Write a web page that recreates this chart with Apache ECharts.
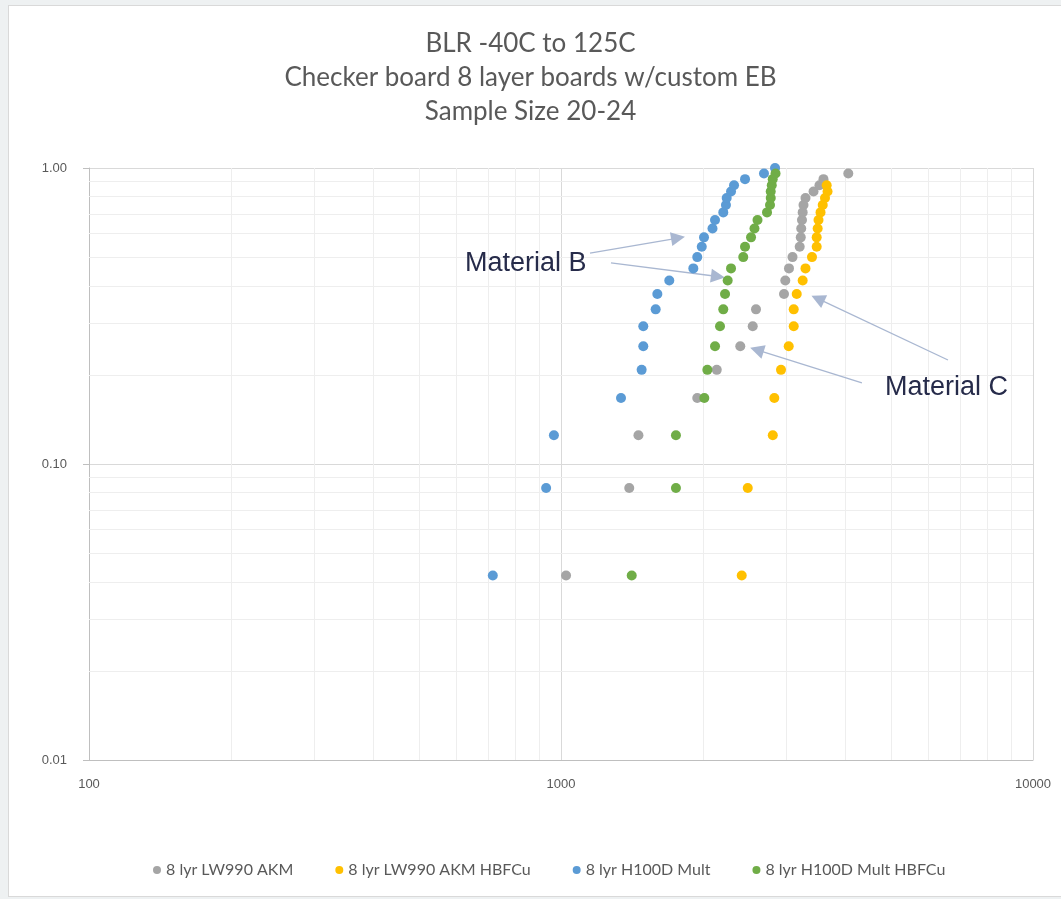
<!DOCTYPE html>
<html>
<head>
<meta charset="utf-8">
<script src="https://cdn.jsdelivr.net/npm/echarts@6/dist/echarts.min.js"></script>
<style>
  html, body { margin: 0; padding: 0; background: #eef1f2; }
  #frame { position: absolute; left: 8px; top: 5px; width: 1053px; height: 890px; background: #ffffff; border-left: 1px solid #d9d9d9; border-top: 1px solid #d9d9d9; border-bottom: 1px solid #d9d9d9; }
  #chart { position: absolute; left: 0; top: 0; width: 1061px; height: 899px; }
</style>
</head>
<body>
<div id="frame"></div>
<div id="chart"></div>
<script>
// Board level reliability: cycles to failure vs. cumulative failure fraction
const titleLines = ['BLR -40C to 125C', 'Checker board 8 layer boards w/custom EB', 'Sample Size 20-24'];
const seriesNames = ['8 lyr LW990 AKM', '8 lyr LW990 AKM HBFCu', '8 lyr H100D Mult', '8 lyr H100D Mult HBFCu'];
const seriesColors = ['#a5a5a5', '#ffc000', '#5b9bd5', '#70ad47'];

// Cumulative failure fraction for the n-th failure
const failFraction = [0.042, 0.083, 0.125, 0.167, 0.208, 0.250, 0.292, 0.333, 0.375, 0.417, 0.458, 0.500,
                      0.542, 0.583, 0.625, 0.667, 0.708, 0.750, 0.792, 0.833, 0.875, 0.917, 0.958, 1.000];

// Cycles to failure, sorted ascending
const cyclesLW990 = [1025, 1395, 1459, 1944, 2138, 2398, 2548, 2589, 2968, 2987, 3041, 3094,
                     3204, 3221, 3228, 3240, 3251, 3264, 3296, 3428, 3529, 3598, 4061];
const cyclesLW990HBFCu = [2415, 2487, 2810, 2831, 2925, 3037, 3112, 3112, 3158, 3251, 3296, 3402,
                          3481, 3481, 3498, 3512, 3547, 3585, 3625, 3670, 3655];
const cyclesH100D = [717, 930, 966, 1340, 1482, 1494, 1494, 1587, 1600, 1696, 1907, 1944,
                     1987, 2009, 2094, 2120, 2207, 2236, 2244, 2292, 2326, 2454, 2692, 2841];
const cyclesH100DHBFCu = [1412, 1752, 1752, 2012, 2042, 2120, 2172, 2207, 2226, 2255, 2292, 2433,
                          2454, 2527, 2570, 2608, 2732, 2772, 2782, 2782, 2796, 2809, 2848];

const xMajorTicks = [100, 1000, 10000];
const yMajorTicks = [0.01, 0.10, 1.00];
const xMinorGrid = [200, 300, 400, 500, 600, 700, 800, 900, 2000, 3000, 4000, 5000, 6000, 7000, 8000, 9000];
const yMinorGrid = [0.02, 0.03, 0.04, 0.05, 0.06, 0.07, 0.08, 0.09, 0.2, 0.3, 0.4, 0.5, 0.6, 0.7, 0.8, 0.9];

// Callout arrows, [cycles, fraction] from tail to head
const calloutB = [[[1152, 0.516], [1770, 0.580]], [[1276, 0.478], [2150, 0.430]]];
const calloutC = [[[6605, 0.2246], [3500, 0.362]], [[4341, 0.1878], [2600, 0.243]]];

const cycleSets = [cyclesLW990, cyclesLW990HBFCu, cyclesH100D, cyclesH100DHBFCu];

const chart = echarts.init(document.getElementById('chart'), null, { renderer: 'canvas' });

const pointSeries = cycleSets.map((cycles, k) => ({
  name: seriesNames[k],
  type: 'scatter',
  z: 5,
  symbol: 'circle',
  symbolSize: 10,
  itemStyle: { color: seriesColors[k], opacity: 1 },
  data: cycles.map((c, i) => [c, failFraction[i]])
}));

const minorGridSeries = {
  name: 'minor-grid',
  type: 'scatter',
  z: 1,
  data: [],
  silent: true,
  markLine: {
    silent: true,
    symbol: 'none',
    label: { show: false },
    animation: false,
    lineStyle: { color: '#eeeeee', width: 1, type: 'solid' },
    data: xMinorGrid.map(v => ({ xAxis: v })).concat(yMinorGrid.map(v => ({ yAxis: v })))
  }
};

const calloutSeries = {
  name: 'callouts',
  type: 'scatter',
  z: 6,
  data: [],
  silent: true,
  markLine: {
    silent: true,
    symbol: ['none', 'triangle'],
    symbolSize: 14,
    label: { show: false },
    animation: false,
    lineStyle: { color: '#a9b7d1', width: 1.3, type: 'solid' },
    data: calloutB.concat(calloutC).map(seg => [{ coord: seg[0] }, { coord: seg[1] }])
  }
};

chart.setOption({
  animation: false,
  backgroundColor: 'transparent',
  title: {
    text: titleLines.join('\n'),
    left: 'center',
    top: 22,
    textStyle: {
      fontFamily: 'Lato, "Open Sans", sans-serif',
      fontWeight: 'normal',
      fontSize: 26,
      lineHeight: 34,
      color: '#595959'
    }
  },
  legend: {
    data: seriesNames,
    bottom: 16,
    left: 148,
    icon: 'circle',
    itemWidth: 8,
    itemHeight: 8,
    itemGap: 42,
    textStyle: { fontFamily: 'Lato, sans-serif', fontSize: 16, color: '#595959' }
  },
  grid: { left: 89, right: 28, top: 168, bottom: 139 },
  xAxis: {
    type: 'log',
    logBase: 10,
    min: xMajorTicks[0],
    max: xMajorTicks[xMajorTicks.length - 1],
    interval: 1,
    axisLine: { show: true, lineStyle: { color: '#bfbfbf' } },
    axisTick: { show: false },
    axisLabel: {
      color: '#595959',
      fontFamily: '"Liberation Sans", Arial, sans-serif',
      fontSize: 13,
      margin: 18,
      formatter: v => String(Math.round(v))
    },
    splitLine: { show: true, lineStyle: { color: '#d9d9d9' } }
  },
  yAxis: {
    type: 'log',
    logBase: 10,
    min: yMajorTicks[0],
    max: yMajorTicks[yMajorTicks.length - 1],
    interval: 1,
    axisLine: { show: true, lineStyle: { color: '#bfbfbf' } },
    axisTick: { show: true, length: 6, lineStyle: { color: '#bfbfbf' } },
    axisLabel: {
      color: '#595959',
      fontFamily: '"Liberation Sans", Arial, sans-serif',
      fontSize: 13,
      margin: 22,
      formatter: v => v.toFixed(2)
    },
    splitLine: { show: true, lineStyle: { color: '#d9d9d9' } }
  },
  graphic: [
    {
      type: 'text', z: 100,
      style: { x: 465, y: 264, text: 'Material B', fontSize: 27, fill: '#262b4a',
               fontFamily: '"Liberation Sans", Arial, sans-serif', verticalAlign: 'middle', align: 'left' }
    },
    {
      type: 'text', z: 100,
      style: { x: 885, y: 388, text: 'Material C', fontSize: 27, fill: '#262b4a',
               fontFamily: '"Liberation Sans", Arial, sans-serif', verticalAlign: 'middle', align: 'left' }
    }
  ],
  series: [minorGridSeries].concat(pointSeries, [calloutSeries])
});
</script>
</body>
</html>
